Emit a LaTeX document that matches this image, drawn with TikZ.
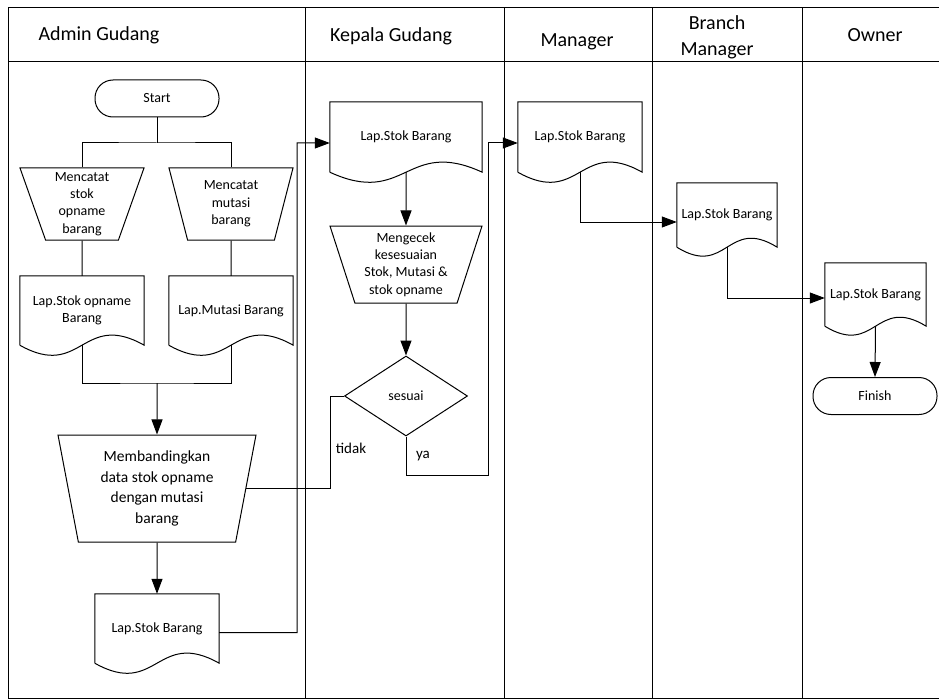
\documentclass[tikz,border=0pt]{standalone}
\usepackage{fontspec}
\setmainfont{Carlito}
\usetikzlibrary{arrows.meta,shapes.geometric,calc}

\newcommand\drawdoc[2]{%
  \draw[line width=1bp] (#1.south west) -- (#1.north west) -- (#1.north east) -- (#1.south east)
    .. controls ($(#1.south)+(0,#2)$) and ($(#1.south)+(0,-#2)$) .. (#1.south west);}

\tikzset{
  ln/.style={line width=1bp},
  arr/.style={line width=1bp,-{Triangle[length=15bp,width=11bp]}},
  hdr/.style={font=\fontsize{20bp}{26bp}\selectfont, align=center, inner sep=0},
  docn/.style={rectangle, inner sep=0, align=center, font=\fontsize{14bp}{17.3bp}\selectfont},
  trap/.style={trapezium, shape border rotate=180, trapezium stretches body, draw, line width=1bp,
     inner sep=0, align=center, font=\fontsize{14bp}{17.3bp}\selectfont},
  term/.style={rectangle, draw, line width=1bp, rounded corners=18bp, minimum width=124bp,
     minimum height=37bp, inner sep=0, font=\fontsize{14bp}{17bp}\selectfont},
  lbl/.style={inner sep=0, font=\fontsize{15bp}{18bp}\selectfont}
}

\begin{document}
\begin{tikzpicture}[x=1bp,y=1bp]
\useasboundingbox (0,0) rectangle (939,-700);

% frame and lanes
\draw[ln] (950,-8) -- (8,-8) -- (8,-698) -- (950,-698);
\draw[ln] (8,-62) -- (950,-62);
\foreach \xx in {305,504,652,802} \draw[ln] (\xx,-8) -- (\xx,-698);

\node[hdr] (h1) at (99,-35) {Admin Gudang};
\node[hdr] (h2) at (391,-36) {Kepala Gudang};
\node[hdr] (h3) at (577,-42) {Manager};
\node[hdr] (h4) at (717,-37) {Branch\\Manager};
\node[hdr] (h5) at (875,-35) {Owner};

% Admin Gudang
\node[term] (start) at (157,-98.5) {Start};
\node[trap, minimum width=124bp, minimum height=72bp, trapezium angle=68] (t1) at (82,-204) {Mencatat\\stok\\opname\\barang};
\node[trap, minimum width=124bp, minimum height=72bp, trapezium angle=68] (t2) at (231,-204) {Mencatat\\mutasi\\barang};
\node[docn, minimum width=124bp, minimum height=69bp] (d1) at (82,-310.5) {Lap.Stok opname\\Barang};
\node[docn, minimum width=124bp, minimum height=69bp] (d2) at (231,-310.5) {Lap.Mutasi Barang};
\drawdoc{d1}{35}
\drawdoc{d2}{35}
\node[trap, minimum width=198bp, minimum height=107bp, trapezium angle=74.8,
      font=\fontsize{15.5bp}{20.5bp}\selectfont] (mb) at (157,-488.5) {Membandingkan\\data stok opname\\dengan mutasi\\barang};
\node[docn, minimum width=124bp, minimum height=69bp] (d3) at (157,-628.5) {Lap.Stok Barang};
\drawdoc{d3}{35}

\coordinate (sj) at (157,-143);
\coordinate (jn) at (157,-383);
\draw[ln] (start.south) -- (sj);
\draw[ln] (t1.north) |- (sj) -| (t2.north);
\draw[ln] (t1.south) -- (d1.north);
\draw[ln] (t2.south) -- (d2.north);
\draw[ln] (d1.south) |- (jn) -| (d2.south);
\draw[arr] (jn) -- (mb.north);
\draw[arr] (mb.south) -- (d3.north);

% Kepala Gudang
\node[docn, minimum width=152bp, minimum height=70bp] (kd) at (406,-137) {Lap.Stok Barang};
\drawdoc{kd}{35}
\node[trap, minimum width=152bp, minimum height=77bp, trapezium angle=68.7] (kt) at (406,-264.5) {Mengecek\\kesesuaian\\Stok, Mutasi \&\\stok opname};
\node[diamond, draw, line width=1bp, minimum width=123bp, minimum height=80bp, inner sep=0,
      font=\fontsize{14bp}{17bp}\selectfont] (dia) at (406,-396) {sesuai};
\draw[arr] (kd.south) -- (kt.north);
\draw[arr] (kt.south) -- (dia.north);

\coordinate (c1) at (297,-143);
\coordinate (c2) at (330,-396);
\coordinate (c3) at (488,-475);
\draw[arr] ([yshift=-4bp]d3.east) -| (c1) -- ([yshift=-6bp]kd.west);
\draw[ln] (mb.east) -| (c2) -- (dia.west);
\node[lbl] (ltidak) at (351,-448) {tidak};
\node[lbl] (lya) at (423,-456) {ya};

% Manager
\node[docn, minimum width=124bp, minimum height=70bp] (md) at (580,-137) {Lap.Stok Barang};
\drawdoc{md}{35}
\draw[arr] (dia.south) |- (c3) |- ([yshift=-6bp]md.west);

% Branch Manager
\node[docn, minimum width=100bp, minimum height=64bp] (bd) at (727,-215) {Lap.Stok Barang};
\drawdoc{bd}{31}
\draw[arr] (md.south) |- ([yshift=-7bp]bd.west);

% Owner
\node[docn, minimum width=101bp, minimum height=63bp] (od) at (875.5,-294.5) {Lap.Stok Barang};
\drawdoc{od}{31}
\draw[arr] (bd.south) |- ([yshift=-3.5bp]od.west);
\node[term] (fin) at (875,-396) {Finish};
\draw[arr] (od.south) -- (fin.north);
\end{tikzpicture}
\end{document}
